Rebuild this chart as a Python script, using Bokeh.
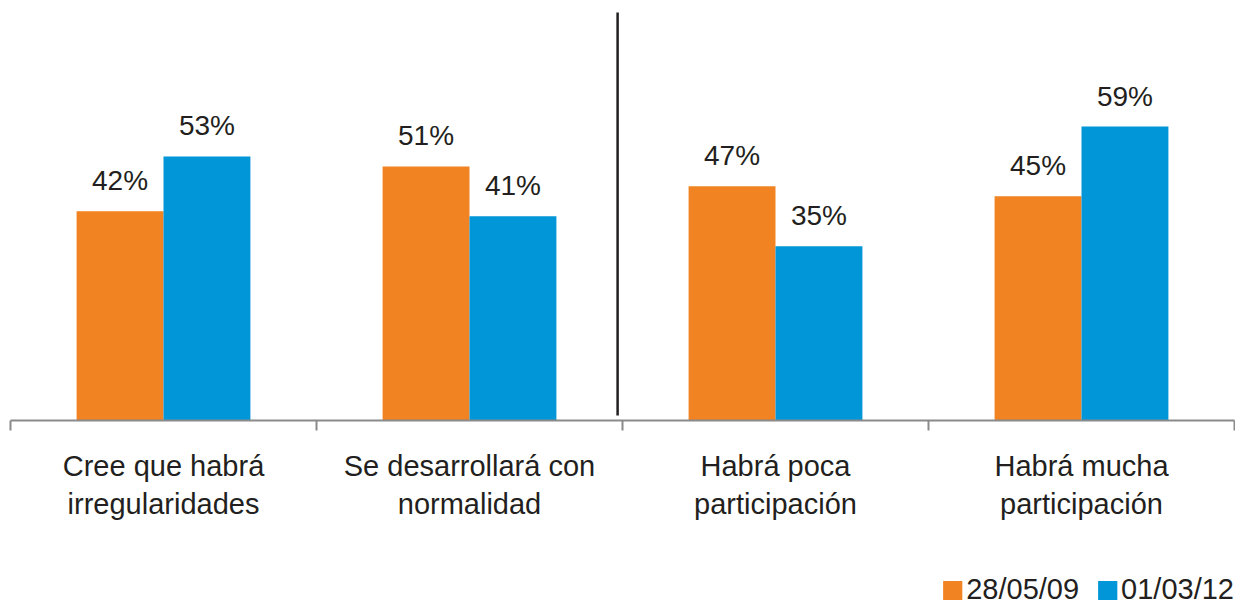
from bokeh.plotting import figure
from bokeh.layouts import column
from bokeh.models import Range1d, FixedTicker, ColumnDataSource, Legend, LegendItem, LabelSet
from bokeh.core.properties import value
from bokeh.embed import file_html
from bokeh.resources import INLINE

categories = ["Cree que habrá\nirregularidades", "Se desarrollará con\nnormalidad",
              "Habrá poca\nparticipación", "Habrá mucha\nparticipación"]
series_names = ["28/05/09", "01/03/12"]
values_2009 = [42, 51, 47, 45]
values_2012 = [53, 41, 35, 59]

ORANGE = "#F28322"
BLUE = "#0096D7"
TEXT = "#231F20"
FONT = "Liberation Sans"

BAR_W = 0.284
centers = [i + 0.5 for i in range(len(categories))]
src1 = ColumnDataSource(dict(x=[c - BAR_W / 2 for c in centers], top=values_2009,
                             lab=[f"{v}%" for v in values_2009]))
src2 = ColumnDataSource(dict(x=[c + BAR_W / 2 for c in centers], top=values_2012,
                             lab=[f"{v}%" for v in values_2012]))

p = figure(width=1235, height=540, output_backend="svg", toolbar_location=None,
           x_range=Range1d(0, len(categories)), y_range=Range1d(0, 82.7),
           min_border_left=10, min_border_right=1, min_border_top=8, min_border_bottom=120)
p.outline_line_color = None
p.grid.visible = False
p.yaxis.visible = False
p.background_fill_color = "white"
p.border_fill_color = "white"

r1 = p.vbar(x="x", top="top", width=BAR_W, source=src1, color=ORANGE, line_color=None)
r2 = p.vbar(x="x", top="top", width=BAR_W, source=src2, color=BLUE, line_color=None)

for src in (src1, src2):
    p.add_layout(LabelSet(x="x", y="top", text="lab", source=src, y_offset=21,
                          text_align="center", text_baseline="alphabetic",
                          text_font=value(FONT), text_font_size="28px", text_color=TEXT))

# divider between the two question groups
divider_x = 1.984
divider_y = (1.0, 81.9)
p.segment(x0=[divider_x], y0=[divider_y[0]], x1=[divider_x], y1=[divider_y[1]],
          line_color="#231F20", line_width=2.5)

ax = p.xaxis[0]
ax.ticker = FixedTicker(ticks=centers, minor_ticks=list(range(len(categories) + 1)))
ax.major_label_overrides = {c: lab for c, lab in zip(centers, categories)}
ax.major_tick_out = 0
ax.major_tick_in = 0
ax.minor_tick_out = 10
ax.minor_tick_in = 0
ax.minor_tick_line_color = "#8A8A8A"
ax.minor_tick_line_width = 2
ax.axis_line_color = "#8A8A8A"
ax.axis_line_width = 2
ax.major_label_standoff = 19
ax.major_label_text_font = FONT
ax.major_label_text_font_size = "29px"
ax.major_label_text_color = TEXT

# legend strip below the chart
pl = figure(width=1235, height=66, output_backend="svg", toolbar_location=None,
            x_range=Range1d(0, 1), y_range=Range1d(0, 1),
            min_border_left=2, min_border_right=1, min_border_top=0, min_border_bottom=0)
pl.outline_line_color = None
pl.grid.visible = False
pl.axis.visible = False
pl.border_fill_color = "white"
e = ColumnDataSource(dict(x=[-5], top=[-5]))
l1 = pl.vbar(x="x", top="top", width=0.1, source=e, color=ORANGE, line_color=None)
l2 = pl.vbar(x="x", top="top", width=0.1, source=e, color=BLUE, line_color=None)
legend = Legend(items=[LegendItem(label=series_names[0], renderers=[l1]),
                       LegendItem(label=series_names[1], renderers=[l2])],
                orientation="horizontal", location="bottom_right",
                label_text_font=FONT, label_text_font_size="29px", label_text_color=TEXT,
                glyph_width=24, glyph_height=24, label_standoff=2, spacing=16,
                border_line_color=None, background_fill_alpha=0, padding=0, margin=0)
pl.add_layout(legend)

open("out.html", "w").write(file_html(column(p, pl, spacing=0), INLINE))
